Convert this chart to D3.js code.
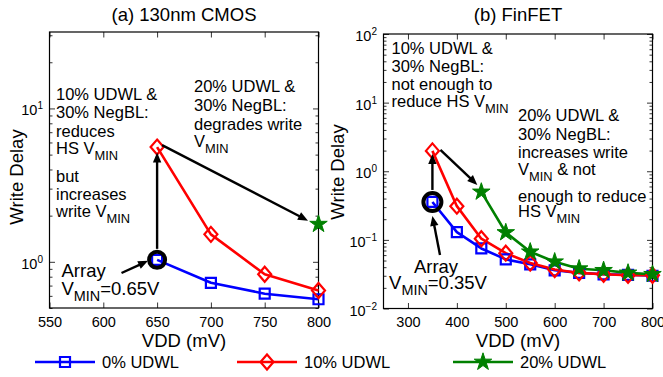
<!DOCTYPE html>
<html><head><meta charset="utf-8">
<script src="https://cdn.jsdelivr.net/npm/d3@7"></script>
<style>
body{margin:0;background:#fff}
svg{display:block}
text{font-family:'Liberation Sans',Arial,Helvetica,sans-serif;fill:#000}
</style>
</head><body>
<svg id="c" width="663" height="377"></svg>
<script>
// ---------------- data ----------------
const seriesNames = ["0% UDWL", "10% UDWL", "20% UDWL"];
const seriesColors = ["#0000ff", "#ff0000", "#008000"];

// (a) 130nm CMOS
const vddA = [650, 700, 750, 800];
const udwl0A = [1.03, 0.73, 0.62, 0.57];
const udwl10A = [5.6, 1.51, 0.83, 0.65];
const vdd20A = [800];
const udwl20A = [1.76];
const xTicksA = [550, 600, 650, 700, 750, 800];
const yExpA = [0, 1];

// (b) FinFET
const vddB = [350, 400, 450, 500, 550, 600, 650, 700, 750, 800];
const udwl0B = [0.357, 0.130, 0.075, 0.052, 0.044, 0.036, 0.033, 0.0315, 0.031, 0.030];
const udwl10B = [1.98, 0.31, 0.104, 0.064, 0.046, 0.037, 0.033, 0.0315, 0.0305, 0.0305];
const vdd20B = [450, 500, 550, 600, 650, 700, 750, 800];
const udwl20B = [0.50, 0.128, 0.067, 0.048, 0.038, 0.036, 0.033, 0.0315];
const xTicksB = [300, 400, 500, 600, 700, 800];
const yExpB = [-2, -1, 0, 1, 2];

const titles = ["(a) 130nm CMOS", "(b) FinFET"];
const xLabel = "VDD (mV)";
const yLabel = "Write Delay";

// ---------------- drawing ----------------
const svg = d3.select("#c");
const TICK_FS = 14.5, ANN_FS = 16.5;

function zip(xs, ys) { return xs.map((x, i) => [x, ys[i]]); }

function markerPath(kind) {
  if (kind === 0) { const s = 5; return `M${-s},${-s}H${s}V${s}H${-s}Z`; }
  if (kind === 1) { const w = 6.5, h = 7.5; return `M0,${-h}L${w},0L0,${h}L${-w},0Z`; }
  return d3.symbol(d3.symbolStar, 95)();
}
function drawMarker(g, kind, cx, cy) {
  const p = g.append("path").attr("d", markerPath(kind))
    .attr("transform", `translate(${cx},${cy})`);
  if (kind === 2) p.attr("fill", seriesColors[2]).attr("stroke", seriesColors[2]).attr("stroke-width", 1);
  else p.attr("fill", "none").attr("stroke", seriesColors[kind]).attr("stroke-width", 2.2);
}

function supLabel(sel, exp) {
  sel.text(null);
  sel.append("tspan").text("10");
  sel.append("tspan").attr("dy", -6).attr("font-size", 10)
    .text(exp < 0 ? "\u2212" + (-exp) : String(exp));
}

function richText(g, x, y, segs, fs, anchor) {
  const t = g.append("text").attr("x", x).attr("y", y).attr("font-size", fs)
    .attr("text-anchor", anchor || "start");
  let shifted = false;
  segs.forEach(s => {
    const sub = s.startsWith("_");
    const txt = sub ? s.slice(1) : s;
    const ts = t.append("tspan").text(txt);
    if (sub && !shifted) { ts.attr("dy", 6).attr("font-size", fs * 0.78); shifted = true; }
    else if (!sub && shifted) { ts.attr("dy", -6); shifted = false; }
  });
  return t;
}

function arrow(g, x1, y1, x2, y2) {
  const L = 10, W = 4.2;
  const dx = x2 - x1, dy = y2 - y1, len = Math.hypot(dx, dy);
  const ux = dx / len, uy = dy / len;
  const bx = x2 - ux * L, by = y2 - uy * L;
  g.append("line").attr("x1", x1).attr("y1", y1).attr("x2", bx + ux * 1).attr("y2", by + uy * 1)
    .attr("stroke", "#000").attr("stroke-width", 2.4);
  g.append("path")
    .attr("d", `M${x2},${y2}L${bx - uy * W},${by + ux * W}L${bx + uy * W},${by - ux * W}Z`)
    .attr("fill", "#000");
}

function drawPanel(cfg) {
  const g = svg.append("g");
  const x = d3.scaleLinear().domain(cfg.xDomain).range([cfg.l, cfg.r]);
  const y = d3.scaleLog().domain(cfg.yDomain).range([cfg.b, cfg.t]);

  const minor = [];
  for (let e = Math.floor(Math.log10(cfg.yDomain[0])); e <= Math.ceil(Math.log10(cfg.yDomain[1])); e++)
    for (let k = 2; k <= 9; k++) { const v = k * Math.pow(10, e); if (v >= cfg.yDomain[0] && v <= cfg.yDomain[1]) minor.push(v); }
  const majors = cfg.yExp.map(e => Math.pow(10, e));

  const axes = [
    [d3.axisLeft(y).tickValues(minor).tickSize(-3).tickFormat(""), `translate(${cfg.l},0)`],
    [d3.axisRight(y).tickValues(minor).tickSize(-3).tickFormat(""), `translate(${cfg.r},0)`],
    [d3.axisRight(y).tickValues(majors).tickSize(-5.5).tickFormat(""), `translate(${cfg.r},0)`],
    [d3.axisTop(x).tickValues(cfg.xTicks).tickSize(-5.5).tickFormat(""), `translate(0,${cfg.t})`]
  ];
  axes.forEach(([ax, tr]) => {
    const a = g.append("g").attr("transform", tr).call(ax);
    a.select(".domain").remove();
    a.selectAll("line").attr("stroke", "#000").attr("stroke-width", 0.8);
  });
  const ya = g.append("g").attr("transform", `translate(${cfg.l},0)`)
    .call(d3.axisLeft(y).tickValues(majors).tickSize(-5.5).tickPadding(6.5));
  ya.select(".domain").remove();
  ya.selectAll("line").attr("stroke", "#000").attr("stroke-width", 0.8);
  ya.selectAll("text").attr("font-size", TICK_FS).attr("font-family", null)
    .attr("dy", "0.45em").each(function (d) { supLabel(d3.select(this), Math.round(Math.log10(d))); });

  const xa = g.append("g").attr("transform", `translate(0,${cfg.b})`)
    .call(d3.axisBottom(x).tickValues(cfg.xTicks).tickSize(-5.5).tickPadding(8.5));
  xa.select(".domain").remove();
  xa.selectAll("line").attr("stroke", "#000").attr("stroke-width", 0.8);
  xa.selectAll("text").attr("font-size", TICK_FS).attr("font-family", null);

  g.append("rect").attr("x", cfg.l).attr("y", cfg.t).attr("width", cfg.r - cfg.l)
    .attr("height", cfg.b - cfg.t).attr("fill", "none").attr("stroke", "#000").attr("stroke-width", 1.2);

  g.append("text").attr("x", (cfg.l + cfg.r) / 2).attr("y", 21).attr("text-anchor", "middle")
    .attr("font-size", 18.5).text(cfg.title);
  g.append("text").attr("x", (cfg.l + cfg.r) / 2).attr("y", 347).attr("text-anchor", "middle")
    .attr("font-size", 18.5).text(xLabel);
  g.append("text").attr("transform", `translate(${cfg.yLabX},${cfg.yLabY}) rotate(-90)`)
    .attr("text-anchor", "middle").attr("font-size", 18.5).text(yLabel);

  const line = d3.line().x(d => x(d[0])).y(d => y(d[1]));
  cfg.series.forEach((pts, k) => {
    if (pts.length > 1)
      g.append("path").attr("d", line(pts)).attr("fill", "none")
        .attr("stroke", seriesColors[k]).attr("stroke-width", 2.6).attr("stroke-linejoin", "round");
  });
  cfg.series.forEach((pts, k) => pts.forEach(p => drawMarker(g, k, x(p[0]), y(p[1]))));

  cfg.extra(g, x, y);
}

drawPanel({
  l: 49.5, r: 318.5, t: 32, b: 308,
  xDomain: [550, 800], yDomain: [0.5, 31.5],
  xTicks: xTicksA, yExp: yExpA, title: titles[0],
  yLabX: 23, yLabY: 177,
  series: [zip(vddA, udwl0A), zip(vddA, udwl10A), zip(vdd20A, udwl20A)],
  extra: (g, x, y) => {
    const cx = x(vddA[0]), cy = y(udwl0A[0]);
    g.append("circle").attr("cx", cx).attr("cy", cy).attr("r", 8).attr("fill", "none")
      .attr("stroke", "#000").attr("stroke-width", 4);
    arrow(g, cx, cy - 11, cx, y(udwl10A[0]) + 5.5);
    arrow(g, 121.5, 273, cx - 9, cy + 1);
    arrow(g, cx + 5, y(udwl10A[0]) - 2, x(vdd20A[0]) - 10.5, y(udwl20A[0]) - 3.5);
    [[["10% UDWL &"], 100], [["30% NegBL:"], 118], [["reduces"], 136.5], [["HS V", "_MIN"], 153.5],
     [["but"], 182], [["increases"], 200], [["write V", "_MIN"], 217]]
      .forEach(([s, yy]) => richText(g, 56, yy, s, ANN_FS));
    [[["20% UDWL &"], 92], [["30% NegBL:"], 111], [["degrades write"], 129.5], [["V", "_MIN"], 147]]
      .forEach(([s, yy]) => richText(g, 194, yy, s, ANN_FS));
    richText(g, 61.5, 277, ["Array"], 18.5);
    richText(g, 61.5, 295, ["V", "_MIN", "=0.65V"], 18.5);
  }
});

drawPanel({
  l: 383.5, r: 652.5, t: 34, b: 308.5,
  xDomain: [250, 800], yDomain: [0.01, 100],
  xTicks: xTicksB, yExp: yExpB, title: titles[1],
  yLabX: 344, yLabY: 172,
  series: [zip(vddB, udwl0B), zip(vddB, udwl10B), zip(vdd20B, udwl20B)],
  extra: (g, x, y) => {
    const cx = x(vddB[0]), cy = y(udwl0B[0]);
    g.append("circle").attr("cx", cx).attr("cy", cy).attr("r", 9).attr("fill", "none")
      .attr("stroke", "#000").attr("stroke-width", 4);
    arrow(g, cx, cy - 12, cx, y(udwl10B[0]) + 3);
    arrow(g, cx + 8, y(udwl10B[0]) - 1, x(vdd20B[0]) - 4, y(udwl20B[0]) - 7);
    arrow(g, 440, 255, cx, cy + 14);
    [[["10% UDWL &"], 53.5], [["30% NegBL:"], 71.5], [["not enough to"], 89.5], [["reduce HS V", "_MIN"], 107]]
      .forEach(([s, yy]) => richText(g, 391.5, yy, s, ANN_FS));
    [[["20% UDWL &"], 121], [["30% NegBL:"], 139.5], [["increases write"], 158], [["V", "_MIN", " & not"], 175],
     [["enough to reduce"], 201.5], [["HS V", "_MIN"], 217]]
      .forEach(([s, yy]) => richText(g, 518, yy, s, ANN_FS));
    richText(g, 436, 273, ["Array"], 18.5, "middle");
    richText(g, 438, 289, ["V", "_MIN", "=0.35V"], 18.5, "middle");
  }
});

// legend
const legX = [35, 237, 453];
const lg = svg.append("g");
seriesNames.forEach((name, k) => {
  lg.append("line").attr("x1", legX[k]).attr("x2", legX[k] + 60).attr("y1", 362).attr("y2", 362)
    .attr("stroke", seriesColors[k]).attr("stroke-width", 2.6);
  drawMarker(lg, k, legX[k] + 30, 362);
  lg.append("text").attr("x", legX[k] + 67).attr("y", 368).attr("font-size", 16.5).text(name);
});
</script>
</body></html>
